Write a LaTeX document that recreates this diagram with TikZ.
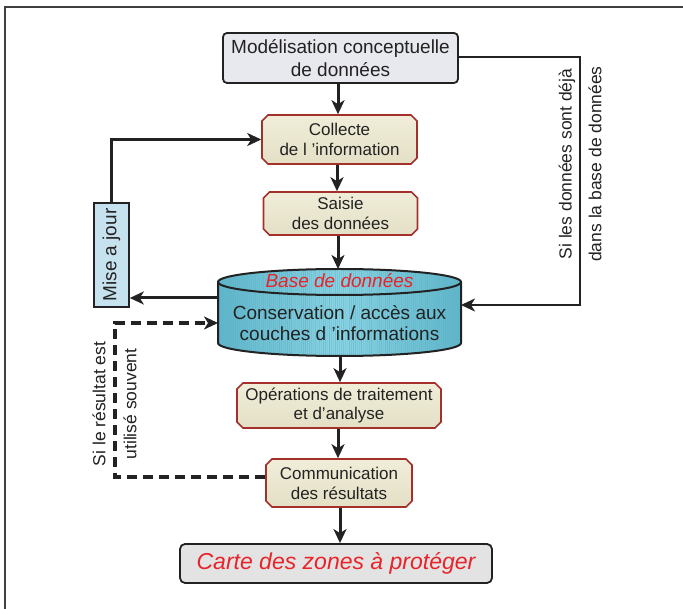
\documentclass[tikz,border=0pt]{standalone}
\usepackage{fontspec}
\setmainfont{Liberation Sans}
\usetikzlibrary{shapes.misc,arrows.meta}
\definecolor{ink}{HTML}{222222}
\definecolor{redborder}{HTML}{A3302B}
\definecolor{beigeT}{HTML}{F0EDD9}
\definecolor{beigeB}{HTML}{E4E0C6}
\definecolor{topfill}{HTML}{E8E8EF}
\definecolor{majfill}{HTML}{C6E2EF}
\definecolor{cylA}{HTML}{5FB5C9}
\definecolor{cylB}{HTML}{8AD3E3}
\definecolor{cylS}{HTML}{5AAFC4}
\definecolor{cartefill}{HTML}{E3E3E3}
\definecolor{redtxt}{HTML}{E8232A}
\tikzset{
  procbox/.style={chamfered rectangle, chamfered rectangle xsep=3pt, chamfered rectangle ysep=3pt,
    draw=redborder, line width=1.6pt, top color=beigeT, bottom color=beigeB,
    text=ink, align=center, inner sep=2pt, font=\fontsize{17}{20}\selectfont},
  tip/.style={-{Stealth[length=14pt,width=13pt,inset=4pt]}},
  arr/.style={line width=3pt, draw=ink, tip},
  dasharr/.style={line width=3.2pt, draw=ink, dash pattern=on 10pt off 6pt, tip},
  thinarr/.style={line width=2.2pt, draw=ink, tip},
  sidelabel/.style={rotate=90, text=ink, font=\fontsize{17.5}{20}\selectfont, inner sep=0pt}
}
\begin{document}
\begin{tikzpicture}[x=1pt,y=-1pt]
\useasboundingbox (0,0) rectangle (683,609);
% frame
\draw[line width=1.8pt, black!75] (5,609) -- (5,7) -- (683,7);

% nodes
\node[draw=ink, line width=1.8pt, rounded corners=4pt, fill=topfill, minimum width=235pt, minimum height=50pt,
  align=center, text=ink, font=\fontsize{19}{23}\selectfont, inner sep=2pt] (top) at (340.5,58) {Modélisation conceptuelle\\de données};
\node[procbox, minimum width=155pt, minimum height=49pt] (coll) at (339.5,139.5) {Collecte\\de l ’information};
\node[procbox, minimum width=154pt, minimum height=43pt] (sais) at (340.5,213.5) {Saisie\\des données};
\node[procbox, minimum width=204pt, minimum height=45pt, font=\fontsize{17}{19}\selectfont] (ops) at (339,405.5) {Opérations de traitement\\et d’analyse};
\node[procbox, minimum width=146pt, minimum height=48pt] (comm) at (339,483) {Communication\\des résultats};
\node[draw=ink, line width=1.8pt, rounded corners=5pt, fill=cartefill, minimum width=312pt, minimum height=39pt,
  text=redtxt, font=\fontsize{23}{26}\selectfont\itshape, inner sep=1pt] (carte) at (336,563.5) {Carte des zones à protéger};
\node[draw=ink, line width=1.6pt, fill=majfill, minimum width=35pt, minimum height=104pt, inner sep=0pt,
  text=ink, font=\fontsize{19}{22}\selectfont] (maj) at (111.5,255) {\rotatebox{90}{Mise a jour}};

% database cylinder
\node[minimum width=243.5pt, minimum height=87pt, inner sep=0pt] (db) at (339.5,312) {};
\begin{scope}
  \clip (218,282) -- (218,343) arc[start angle=180,end angle=360,x radius=121.5pt,y radius=13pt]
        -- (461,282) arc[start angle=0,end angle=180,x radius=121.5pt,y radius=13pt] -- cycle;
  \shade[left color=cylA, right color=cylA, middle color=cylB] (216,260) rectangle (463,360);
  \pgfmathsetseed{7}
  \foreach \i in {0,...,121} {
    \pgfmathsetmacro{\op}{0.1+0.4*rnd}
    \draw[cylS, line width=1pt, opacity=\op] (219+2*\i,260) -- (219+2*\i,360);
  }
\end{scope}
\draw[line width=2pt, ink] (218,282) -- (218,343) arc[start angle=180,end angle=360,x radius=121.5pt,y radius=13pt] -- (461,282);
\draw[line width=2pt, ink] (339.5,282) ellipse[x radius=121.5pt, y radius=13pt];
\node[text=redtxt, font=\fontsize{19}{22}\selectfont\itshape, inner sep=0pt] (dbtitle) at (339.5,281) {Base de données};
\node[text=ink, font=\fontsize{19}{21}\selectfont, align=center, inner sep=0pt] (dbtext) at (339.5,323.5) {Conservation / accès aux\\couches d ’informations};

% main arrows
\draw[arr] (top.south -| 338,0) -- (coll.north -| 338,0);
\draw[arr] (coll.south -| 337,0) -- (sais.north -| 337,0);
\draw[arr] (sais.south -| 338,0) -- (338,269);
\draw[arr] (340,356) -- (ops.north -| 340,0);
\draw[arr] (ops.south -| 338,0) -- (comm.north -| 338,0);
\draw[arr] (comm.south -| 340,0) -- (carte.north -| 340,0);

% right loop
\coordinate (r1) at (580,57);
\coordinate (r2) at (580,305);
\draw[thinarr] (top.east |- r1) -- (r1) -- (r2) -- (461,305);

% to mise a jour
\coordinate (dbL) at (218,298);
\draw[arr] (dbL) -- (dbL -| maj.east);
\draw[thinarr] (maj.north) -- (maj.north |- coll.west) -- (coll.west);

% dashed loop
\coordinate (dl1) at (115,477);
\coordinate (dl2) at (115,323);
\draw[dasharr] (comm.west |- dl1) -- (dl1) -- (dl2) -- (218,323);

% side labels
\node[sidelabel] (lab1) at (567,164) {Si les données sont déjà};
\node[sidelabel] (lab2) at (595,164) {dans la base de données};
\node[sidelabel] (lab3) at (99,404) {Si le résultat est};
\node[sidelabel] (lab4) at (130,404) {utilisé souvent};
\end{tikzpicture}
\end{document}
